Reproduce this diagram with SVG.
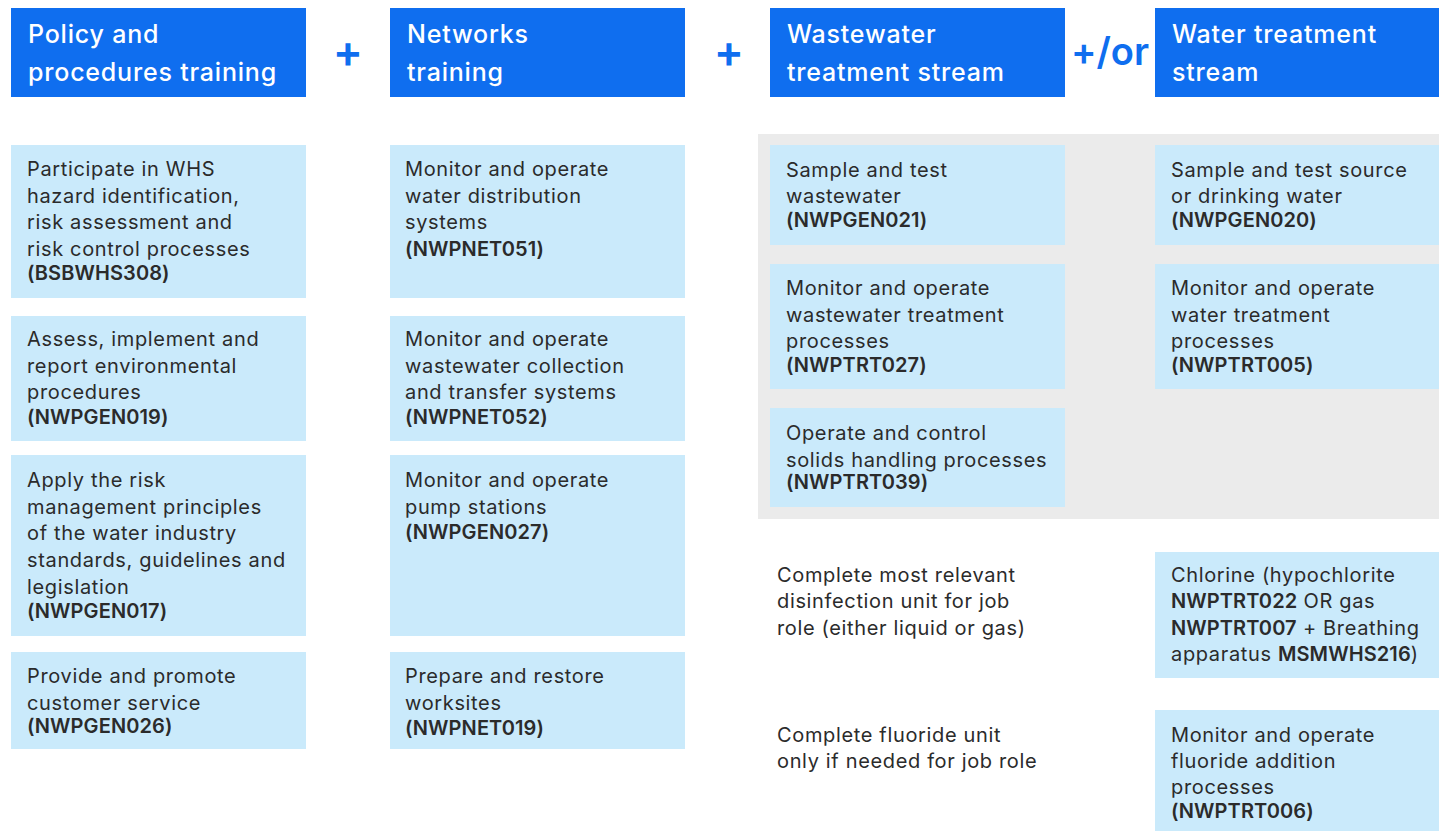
<svg xmlns="http://www.w3.org/2000/svg" width="1439" height="831" viewBox="0 0 1439 831">
<style>
.hdr{fill:#0f6eef}
.box{fill:#caeafb}
.ht{font-family:Inter,"Liberation Sans",sans-serif;font-size:25px;font-weight:500;fill:#ffffff;letter-spacing:0.8px}
.t{font-family:Inter,"Liberation Sans",sans-serif;font-size:20px;fill:#2b2b2b;letter-spacing:0.65px}
.b{font-weight:600;letter-spacing:0.1px}
.op{font-family:Inter,"Liberation Sans",sans-serif;font-size:38px;font-weight:600;fill:#0f6eef}
.plus{font-size:45px}
</style>
<rect width="1439" height="831" fill="#ffffff"/>
<rect id="panel" x="758" y="134" width="681" height="385" fill="#ebebeb"/>

<g id="h-policy"><rect class="hdr" x="11" y="8" width="295" height="89"/><text class="ht" x="28" y="43">Policy and</text><text class="ht" x="28" y="81">procedures training</text></g>
<g id="h-networks"><rect class="hdr" x="390" y="8" width="295" height="89"/><text class="ht" x="407" y="43">Networks</text><text class="ht" x="407" y="81">training</text></g>
<g id="h-waste"><rect class="hdr" x="770" y="8" width="295" height="89"/><text class="ht" x="787" y="43">Wastewater</text><text class="ht" x="787" y="81">treatment stream</text></g>
<g id="h-water"><rect class="hdr" x="1155" y="8" width="284" height="89"/><text class="ht" x="1172" y="43">Water treatment</text><text class="ht" x="1172" y="81">stream</text></g>

<g id="ops">
<text class="op plus" x="348" y="67" text-anchor="middle">+</text>
<text class="op plus" x="729" y="67" text-anchor="middle">+</text>
<text class="op" x="1110" y="65" text-anchor="middle">+/or</text>
</g>

<g id="p1"><rect class="box" x="11" y="145" width="295" height="153"/>
<text class="t" x="27" y="176">Participate in WHS</text>
<text class="t" x="27" y="203">hazard identification,</text>
<text class="t" x="27" y="229">risk assessment and</text>
<text class="t" x="27" y="256">risk control processes</text>
<text class="t b" x="27" y="280">(BSBWHS308)</text></g>
<g id="p2"><rect class="box" x="11" y="316" width="295" height="125"/>
<text class="t" x="27" y="346">Assess, implement and</text>
<text class="t" x="27" y="373">report environmental</text>
<text class="t" x="27" y="399">procedures</text>
<text class="t b" x="27" y="424">(NWPGEN019)</text></g>
<g id="p3"><rect class="box" x="11" y="455" width="295" height="181"/>
<text class="t" x="27" y="487">Apply the risk</text>
<text class="t" x="27" y="514">management principles</text>
<text class="t" x="27" y="540">of the water industry</text>
<text class="t" x="27" y="567">standards, guidelines and</text>
<text class="t" x="27" y="594">legislation</text>
<text class="t b" x="27" y="618">(NWPGEN017)</text></g>
<g id="p4"><rect class="box" x="11" y="652" width="295" height="97"/>
<text class="t" x="27" y="683">Provide and promote</text>
<text class="t" x="27" y="710">customer service</text>
<text class="t b" x="27" y="733">(NWPGEN026)</text></g>

<g id="n1"><rect class="box" x="390" y="145" width="295" height="153"/>
<text class="t" x="405" y="176">Monitor and operate</text>
<text class="t" x="405" y="203">water distribution</text>
<text class="t" x="405" y="229">systems</text>
<text class="t b" x="405" y="256">(NWPNET051)</text></g>
<g id="n2"><rect class="box" x="390" y="316" width="295" height="125"/>
<text class="t" x="405" y="346">Monitor and operate</text>
<text class="t" x="405" y="373">wastewater collection</text>
<text class="t" x="405" y="399">and transfer systems</text>
<text class="t b" x="405" y="424">(NWPNET052)</text></g>
<g id="n3"><rect class="box" x="390" y="455" width="295" height="181"/>
<text class="t" x="405" y="487">Monitor and operate</text>
<text class="t" x="405" y="514">pump stations</text>
<text class="t b" x="405" y="539">(NWPGEN027)</text></g>
<g id="n4"><rect class="box" x="390" y="652" width="295" height="97"/>
<text class="t" x="405" y="683">Prepare and restore</text>
<text class="t" x="405" y="710">worksites</text>
<text class="t b" x="405" y="735">(NWPNET019)</text></g>

<g id="w1"><rect class="box" x="770" y="145" width="295" height="100"/>
<text class="t" x="786" y="177">Sample and test</text>
<text class="t" x="786" y="203">wastewater</text>
<text class="t b" x="786" y="227">(NWPGEN021)</text></g>
<g id="w2"><rect class="box" x="770" y="264" width="295" height="125"/>
<text class="t" x="786" y="295">Monitor and operate</text>
<text class="t" x="786" y="322">wastewater treatment</text>
<text class="t" x="786" y="348">processes</text>
<text class="t b" x="786" y="372">(NWPTRT027)</text></g>
<g id="w3"><rect class="box" x="770" y="408" width="295" height="99"/>
<text class="t" x="786" y="440">Operate and control</text>
<text class="t" x="786" y="467">solids handling processes</text>
<text class="t b" x="786" y="489">(NWPTRT039)</text></g>

<g id="d1"><rect class="box" x="1155" y="145" width="284" height="100"/>
<text class="t" x="1171" y="177">Sample and test source</text>
<text class="t" x="1171" y="203">or drinking water</text>
<text class="t b" x="1171" y="227">(NWPGEN020)</text></g>
<g id="d2"><rect class="box" x="1155" y="264" width="284" height="125"/>
<text class="t" x="1171" y="295">Monitor and operate</text>
<text class="t" x="1171" y="322">water treatment</text>
<text class="t" x="1171" y="348">processes</text>
<text class="t b" x="1171" y="372">(NWPTRT005)</text></g>

<g id="note1">
<text class="t" x="777" y="582">Complete most relevant</text>
<text class="t" x="777" y="608">disinfection unit for job</text>
<text class="t" x="777" y="635">role (either liquid or gas)</text></g>
<g id="note2">
<text class="t" x="777" y="742">Complete fluoride unit</text>
<text class="t" x="777" y="768">only if needed for job role</text></g>

<g id="d3"><rect class="box" x="1155" y="552" width="284" height="126"/>
<text class="t" x="1171" y="582">Chlorine (hypochlorite</text>
<text class="t" x="1171" y="608"><tspan class="b">NWPTRT022</tspan> OR gas</text>
<text class="t" x="1171" y="635"><tspan class="b">NWPTRT007</tspan> + Breathing</text>
<text class="t" x="1171" y="661">apparatus <tspan class="b">MSMWHS216</tspan>)</text></g>
<g id="d4"><rect class="box" x="1155" y="710" width="284" height="121"/>
<text class="t" x="1171" y="742">Monitor and operate</text>
<text class="t" x="1171" y="768">fluoride addition</text>
<text class="t" x="1171" y="794">processes</text>
<text class="t b" x="1171" y="818">(NWPTRT006)</text></g>

<g id="connectors"></g>
</svg>
